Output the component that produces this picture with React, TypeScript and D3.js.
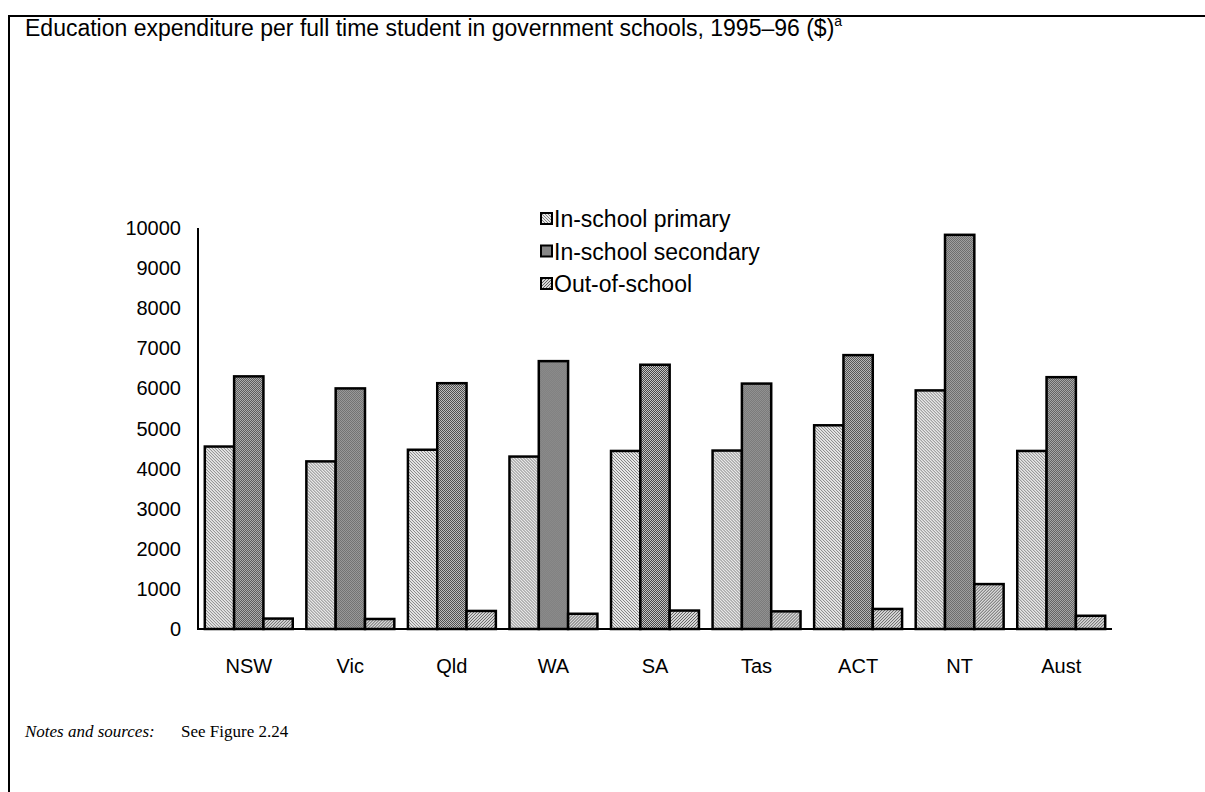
import * as d3 from "d3";

// Données
const categories = ["NSW", "Vic", "Qld", "WA", "SA", "Tas", "ACT", "NT", "Aust"];
const seriesNames = ["In-school primary", "In-school secondary", "Out-of-school"];
const primary = [4550, 4180, 4470, 4300, 4440, 4450, 5080, 5950, 4440];
const secondary = [6300, 6000, 6130, 6680, 6590, 6120, 6830, 9830, 6280];
const outOfSchool = [260, 250, 450, 380, 460, 440, 500, 1120, 330];
const yTicks = [0, 1000, 2000, 3000, 4000, 5000, 6000, 7000, 8000, 9000, 10000];

const W = 1205;
const H = 792;
const sans = "'Liberation Sans', Arial, sans-serif";
const serif = "'Liberation Serif', 'Times New Roman', serif";

export default function App() {
  const x = d3
    .scaleBand()
    .domain(categories)
    .range([198, 1112])
    .paddingInner(0.134)
    .paddingOuter(0.067);
  const xSub = d3.scaleBand().domain(seriesNames).range([0, x.bandwidth()]);
  const y = d3.scaleLinear().domain([0, 10000]).range([629, 228]);

  const values = [primary, secondary, outOfSchool];
  const fills = ["url(#pPrim)", "url(#pSec)", "url(#pOut)"];

  return (
    <svg
      width={W}
      height={H}
      style={{ position: "fixed", left: 0, top: 0, background: "#fff" }}
    >
      <defs>
        {/* hachures claires "\" */}
        <pattern id="pPrim" width={3} height={3} patternUnits="userSpaceOnUse">
          <rect width={3} height={3} fill="#e8e8e8" />
          <path d="M-1,-1 L4,4 M-1,2 L1,4 M2,-1 L4,1" stroke="#707070" strokeWidth={0.85} />
        </pattern>
        {/* damier gris */}
        <pattern id="pSec" width={2} height={2} patternUnits="userSpaceOnUse">
          <rect width={2} height={2} fill="#c8c8c8" />
          <rect width={1} height={1} fill="#444" />
          <rect x={1} y={1} width={1} height={1} fill="#444" />
        </pattern>
        {/* hachures "/" */}
        <pattern id="pOut" width={3} height={3} patternUnits="userSpaceOnUse">
          <rect width={3} height={3} fill="#d8d8d8" />
          <path d="M-1,4 L4,-1 M-1,1 L1,-1 M2,4 L4,2" stroke="#555" strokeWidth={0.9} />
        </pattern>
      </defs>

      {/* cadre */}
      <path d="M9,800 L9,16 L1210,16" fill="none" stroke="#000" strokeWidth={2} />

      {/* titre */}
      <text x={25} y={36} fontFamily={sans} fontSize={23} fill="#000">
        Education expenditure per full time student in government schools, 1995–96 ($)
        <tspan fontSize={14} dy={-10}>a</tspan>
      </text>

      {/* barres */}
      {categories.map((c, i) => (
        <g key={c} transform={`translate(${x(c)},0)`}>
          {seriesNames.map((s, j) => (
            <rect
              key={s}
              x={xSub(s)}
              y={y(values[j][i])}
              width={xSub.bandwidth()}
              height={y(0) - y(values[j][i])}
              fill={fills[j]}
              stroke="#000"
              strokeWidth={2.5}
            />
          ))}
        </g>
      ))}

      {/* axes */}
      <line x1={198} x2={198} y1={y(10000)} y2={y(0)} stroke="#000" strokeWidth={2} />
      <line x1={197} x2={1112} y1={y(0)} y2={y(0)} stroke="#000" strokeWidth={2} />

      {yTicks.map((t) => (
        <text
          key={t}
          x={181}
          y={y(t)}
          dy="0.35em"
          textAnchor="end"
          fontFamily={sans}
          fontSize={20}
        >
          {t}
        </text>
      ))}

      {categories.map((c) => (
        <text
          key={c}
          x={(x(c) || 0) + x.bandwidth() / 2}
          y={666}
          dy="0.35em"
          textAnchor="middle"
          fontFamily={sans}
          fontSize={20}
        >
          {c}
        </text>
      ))}

      {/* légende */}
      {seriesNames.map((s, j) => (
        <g key={s} transform={`translate(541,${219 + j * 32.5})`}>
          <rect x={0} y={-6} width={11} height={11} fill={fills[j]} stroke="#000" strokeWidth={2} />
          <text x={13} y={0} dy="0.35em" fontFamily={sans} fontSize={23}>
            {s}
          </text>
        </g>
      ))}

      {/* notes */}
      <text x={25} y={737} fontFamily={serif} fontStyle="italic" fontSize={17}>
        Notes and sources:
      </text>
      <text x={181} y={737} fontFamily={serif} fontSize={17}>
        See Figure 2.24
      </text>
    </svg>
  );
}
